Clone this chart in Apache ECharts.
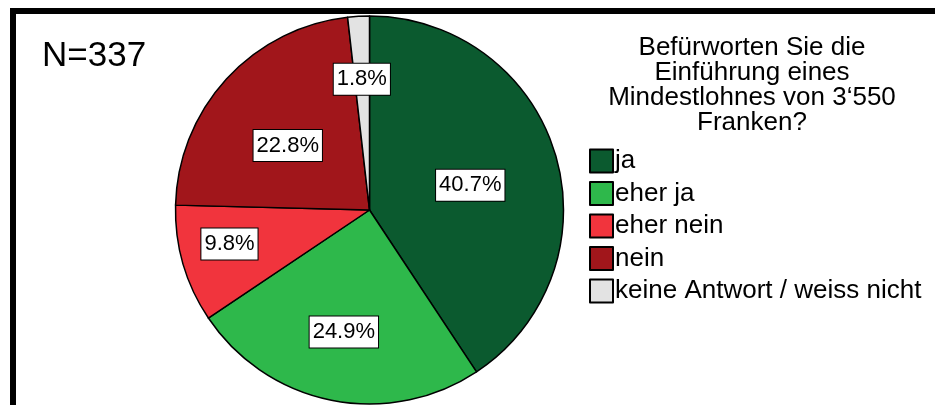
<!DOCTYPE html>
<html>
<head>
<meta charset="utf-8">
<script src="https://cdn.jsdelivr.net/npm/echarts@6/dist/echarts.min.js"></script>
<style>
  html, body { margin: 0; padding: 0; background: #fff; }
  #chart { width: 935px; height: 405px; }
</style>
</head>
<body>
<div id="chart"></div>
<script>
const categories = ['ja', 'eher ja', 'eher nein', 'nein', 'keine Antwort / weiss nicht']
const shares = [40.7, 24.9, 9.8, 22.8, 1.8]
const colors = ['#0b5a2f', '#2eb84b', '#f1343d', '#a1161b', '#e3e3e3']
// small nudges so the percent boxes sit where the original put them
const labelNudge = [[5, 4], [-6, 24], [-44, 6], [-8, 3], [-2, -31]]

const FONT = '"Liberation Sans", Arial, sans-serif'

const chart = echarts.init(document.getElementById('chart'))
const opt = {
  backgroundColor: '#fff',
  animation: false,
  title: [
    {
      text: 'N=337',
      left: 42,
      top: 39,
      padding: 0,
      textStyle: { fontFamily: FONT, fontSize: 35, fontWeight: 'normal', color: '#000' }
    },
    {
      text: 'Befürworten Sie die\nEinführung eines\nMindestlohnes von 3‘550\nFranken?',
      left: 752,
      top: 35,
      padding: 0,
      textAlign: 'center',
      textStyle: { fontFamily: FONT, fontSize: 26, lineHeight: 25, fontWeight: 'normal', color: '#000' }
    }
  ],
  legend: {
    orient: 'vertical',
    left: 589,
    top: 148,
    padding: 0,
    itemWidth: 23,
    itemHeight: 23,
    itemGap: 6.5,
    icon: 'rect',
    data: categories,
    textStyle: { fontFamily: FONT, fontSize: 26, color: '#000', padding: [0, 0, 0, -3] }
  },
  graphic: [
    {
      type: 'rect',
      silent: true,
      shape: { x: 13, y: 11, width: 1000, height: 1000 },
      style: { fill: 'none', stroke: '#000', lineWidth: 6 }
    }
  ],
  series: [
    {
      type: 'pie',
      center: [369.5, 210],
      radius: 194,
      startAngle: 90,
      clockwise: true,
      avoidLabelOverlap: false,
      itemStyle: { borderColor: '#000', borderWidth: 1.5 },
      emphasis: { disabled: true },
      label: {
        show: true,
        position: 'inside',
        formatter: p => p.value.toFixed(1) + '%',
        fontFamily: FONT,
        fontSize: 22,
        lineHeight: 24,
        color: '#000',
        backgroundColor: '#fff',
        borderColor: '#000',
        borderWidth: 1,
        padding: [4, 3, 3, 3]
      },
      labelLine: { show: false },
      data: categories.map((name, i) => ({
        name: name,
        value: shares[i],
        itemStyle: { color: colors[i] },
        label: { offset: labelNudge[i] }
      }))
    }
  ]
}
chart.setOption(opt)
</script>
</body>
</html>
